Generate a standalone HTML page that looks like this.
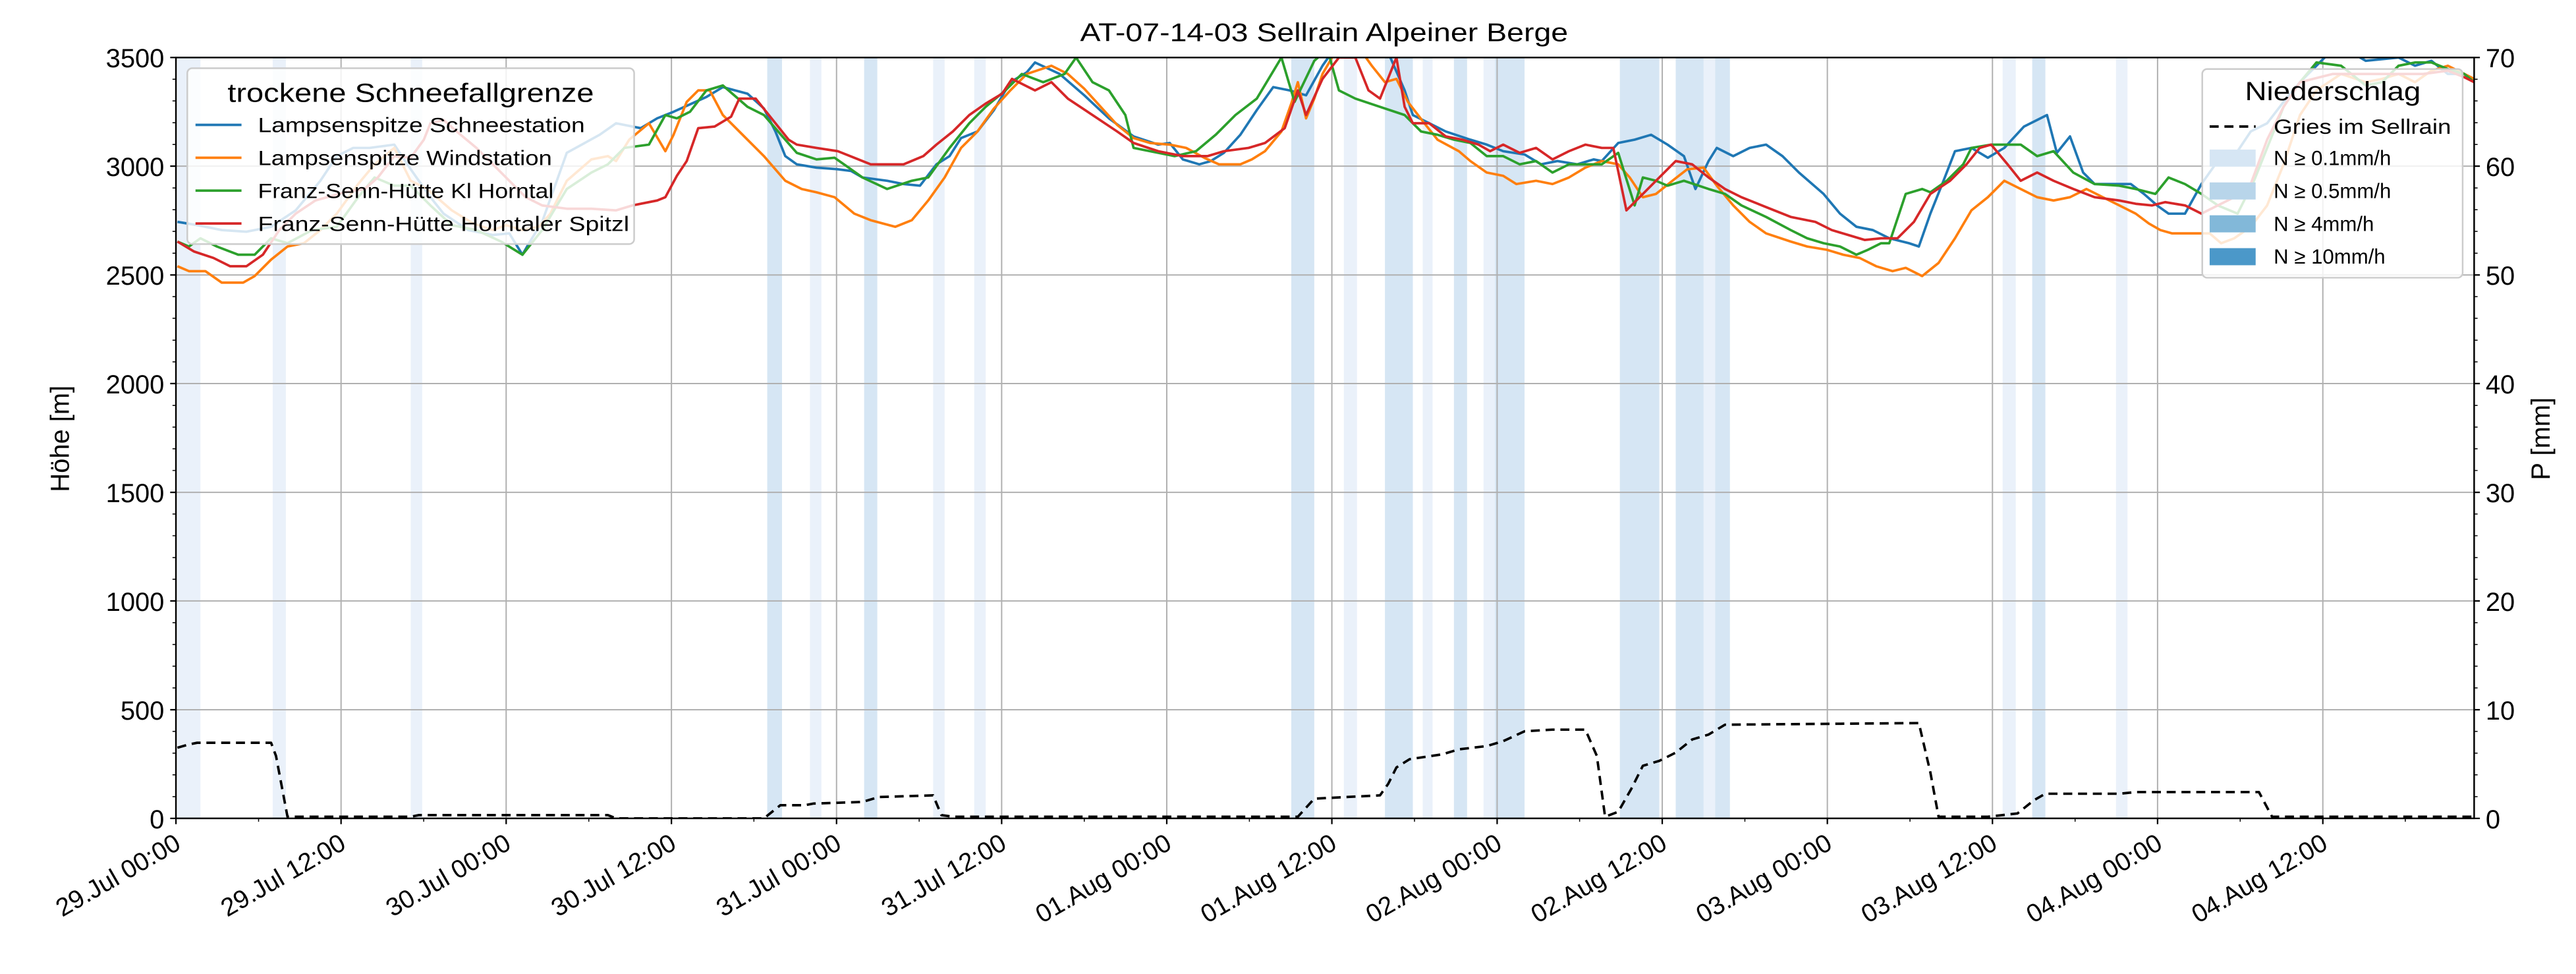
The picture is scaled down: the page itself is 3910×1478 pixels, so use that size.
<!DOCTYPE html>
<html><head><meta charset="utf-8"><style>html,body{margin:0;padding:0;background:#fff}svg{display:block}</style></head>
<body>
<svg xmlns="http://www.w3.org/2000/svg" width="3910" height="1478" viewBox="0 0 1568 592.7" font-family="Liberation Sans, DejaVu Sans, sans-serif">
<defs><clipPath id="pc"><rect x="107.1" y="35" width="1398.9" height="463"/></clipPath></defs>
<rect width="1568" height="593" fill="#fff"/>
<!-- rain bands -->
<g clip-path="url(#pc)">
<rect x="108" y="35" width="14" height="463" fill="#eaf1fa"/>
<rect x="166" y="35" width="8" height="463" fill="#eaf1fa"/>
<rect x="250" y="35" width="7" height="463" fill="#eaf1fa"/>
<rect x="467" y="35" width="9" height="463" fill="#d6e6f4"/>
<rect x="493" y="35" width="7" height="463" fill="#eaf1fa"/>
<rect x="526" y="35" width="8" height="463" fill="#d6e6f4"/>
<rect x="568" y="35" width="7" height="463" fill="#eaf1fa"/>
<rect x="593" y="35" width="7" height="463" fill="#eaf1fa"/>
<rect x="786" y="35" width="14" height="463" fill="#d6e6f4"/>
<rect x="818" y="35" width="8" height="463" fill="#eaf1fa"/>
<rect x="843" y="35" width="17" height="463" fill="#d6e6f4"/>
<rect x="866" y="35" width="6" height="463" fill="#eaf1fa"/>
<rect x="885" y="35" width="8" height="463" fill="#d6e6f4"/>
<rect x="903" y="35" width="7" height="463" fill="#eaf1fa"/>
<rect x="910" y="35" width="18" height="463" fill="#d6e6f4"/>
<rect x="986" y="35" width="24" height="463" fill="#d6e6f4"/>
<rect x="1020" y="35" width="17" height="463" fill="#d6e6f4"/>
<rect x="1037" y="35" width="7" height="463" fill="#eaf1fa"/>
<rect x="1044" y="35" width="9" height="463" fill="#d6e6f4"/>
<rect x="1219" y="35" width="8" height="463" fill="#eaf1fa"/>
<rect x="1237" y="35" width="8" height="463" fill="#d6e6f4"/>
<rect x="1288" y="35" width="7" height="463" fill="#eaf1fa"/>
</g>
<!-- grid -->
<g stroke="#b0b0b0" stroke-width="0.8">
<path d="M107.1 431.9H1506M107.1 365.7H1506M107.1 299.6H1506M107.1 233.4H1506M107.1 167.3H1506M107.1 101.1H1506"/>
<path d="M207.6 35V498M308.1 35V498M408.7 35V498M509.2 35V498M609.7 35V498M710.2 35V498M810.7 35V498M911.3 35V498M1011.8 35V498M1112.3 35V498M1212.8 35V498M1313.3 35V498M1413.9 35V498"/>
</g>
<g clip-path="url(#pc)" fill="none" stroke-width="1.5" stroke-linejoin="round">
<polyline stroke="#1f77b4" points="108,135 120,137 135,140 150,141 165,138 180,128 195,110 205,95 215,90 225,90 240,88 250,103 262,120 270,130 285,140 300,143 310,142 318,155 322,148 330,135 345,93 365,82 375,75 390,78 400,72 410,68 430,59 440,53 455,57 465,66 472,80 478,95 485,100 497,102 510,103 518,104 525,108 540,110 550,112 560,113 570,100 578,95 585,84 595,80 605,67 615,50 625,44 630,38 645,45 660,58 675,72 690,83 705,88 712,87 720,97 730,100 737,98 745,93 755,82 765,67 775,53 785,55 795,58 805,40 812,30 822,32 835,30 845,32 855,55 860,70 870,75 880,80 895,85 905,88 915,92 928,94 938,100 948,98 960,100 970,97 975,98 985,87 995,85 1005,82 1015,88 1025,95 1032,115 1040,98 1045,90 1055,95 1065,90 1075,88 1085,95 1095,105 1110,118 1120,130 1130,138 1140,140 1150,145 1162,148 1168,150 1175,130 1183,110 1190,92 1200,90 1210,96 1220,90 1232,77 1242,72 1246,70 1252,93 1260,83 1268,105 1275,112 1285,112 1297,112 1305,118 1313,125 1320,130 1330,130 1340,112 1352,95 1362,92 1370,80 1380,75 1390,62 1400,50 1415,35 1428,30 1440,37 1460,35 1470,40 1480,37 1490,45 1500,45 1506,50"/>
<polyline stroke="#ff7f0e" points="108,162 115,165 125,165 135,172 148,172 155,168 165,158 175,150 185,148 195,140 205,130 218,112 228,100 240,90 250,110 260,115 275,128 288,136 300,140 308,137 318,140 328,138 335,130 345,110 360,97 370,95 375,98 383,85 395,75 405,92 410,82 418,62 425,55 432,55 440,70 452,82 465,95 478,110 488,115 497,117 508,120 520,130 530,134 545,138 555,134 565,122 575,108 585,90 595,80 605,66 615,55 625,45 640,40 650,45 660,54 670,65 680,76 690,84 700,87 712,88 722,90 733,96 742,100 755,100 762,97 770,92 780,80 786,63 790,50 795,72 800,60 805,45 812,33 830,33 835,40 843,50 850,48 857,62 867,75 875,85 888,92 895,98 905,105 915,107 923,112 935,110 945,112 955,108 965,102 975,98 985,100 992,108 1000,120 1008,118 1018,110 1027,103 1037,102 1045,113 1055,125 1065,135 1075,142 1090,147 1100,150 1112,152 1122,155 1132,157 1142,162 1152,165 1160,163 1170,168 1180,160 1190,145 1200,128 1210,120 1220,110 1230,115 1240,120 1250,122 1260,120 1270,115 1280,120 1290,125 1300,130 1308,136 1315,140 1322,142 1335,142 1345,142 1352,148 1360,145 1370,138 1380,125 1390,100 1400,70 1410,55 1425,45 1440,50 1450,48 1460,45 1470,50 1480,43 1490,40 1500,45 1506,48"/>
<polyline stroke="#2ca02c" points="108,147 115,150 122,145 132,150 145,155 155,155 165,145 175,148 190,140 205,138 218,120 228,108 240,113 250,113 262,125 275,137 290,140 305,147 318,155 330,140 345,115 360,105 370,100 380,90 395,88 405,70 412,72 420,68 430,55 440,52 455,65 465,70 478,85 485,93 497,97 508,96 518,103 525,108 540,115 555,110 565,108 578,90 590,75 600,65 612,55 622,45 635,50 648,45 655,35 665,50 675,55 685,70 690,90 700,92 715,95 728,92 740,82 752,70 765,60 780,35 788,62 800,37 808,30 815,55 825,60 840,65 855,70 865,80 875,82 885,85 895,87 905,95 915,95 925,100 935,98 945,105 955,100 962,100 975,100 985,93 995,125 1000,108 1008,110 1015,113 1025,110 1040,115 1050,118 1060,125 1075,132 1090,140 1100,145 1110,148 1120,150 1130,155 1137,152 1145,148 1150,148 1160,118 1170,115 1175,117 1185,110 1195,100 1200,90 1212,88 1230,88 1240,95 1250,92 1262,105 1275,112 1290,113 1300,115 1312,118 1320,108 1330,112 1340,118 1350,125 1362,130 1372,110 1380,90 1390,65 1400,50 1410,38 1425,40 1440,52 1450,50 1460,40 1470,38 1480,38 1490,42 1500,45 1506,50"/>
<polyline stroke="#d62728" points="108,147 118,153 130,157 140,162 150,162 160,155 170,140 180,130 192,122 210,117 222,115 230,108 240,95 250,96 258,85 262,75 270,73 278,80 290,90 300,100 312,112 320,120 330,125 345,127 360,127 375,128 385,125 400,122 405,120 412,107 418,98 425,78 435,77 445,71 450,60 460,60 468,70 480,85 485,88 497,90 510,92 520,96 530,100 540,100 550,100 562,95 570,88 580,80 590,70 600,63 610,57 616,48 630,55 640,50 650,60 665,70 680,80 690,87 705,92 720,95 735,95 745,92 760,90 770,87 782,78 790,55 795,70 805,48 815,35 825,35 833,55 840,60 850,35 855,65 860,75 870,75 880,83 890,85 900,88 907,92 915,88 925,93 935,90 945,97 955,92 965,88 975,90 982,90 990,128 1000,118 1010,108 1020,98 1030,100 1040,108 1050,115 1060,120 1075,126 1090,132 1105,135 1115,140 1125,143 1135,146 1145,145 1155,145 1165,135 1175,118 1187,110 1197,100 1205,90 1212,88 1222,100 1230,110 1240,105 1250,110 1262,115 1275,120 1290,122 1300,124 1310,125 1318,123 1330,125 1340,130 1350,125 1360,120 1370,112 1380,85 1390,65 1400,50 1420,45 1440,45 1460,45 1475,45 1490,43 1500,47 1506,50"/>
<polyline stroke="#000" stroke-dasharray="5.5,3.5" points="108,455 115,453 120,452 165,452 168,460 175,497 250,497 255,496 370,496 375,498 465,498 475,490 490,490 495,489 525,488 535,485 568,484 573,496 580,497 790,497 800,486 820,485 840,484 845,477 850,467 858,462 878,459 888,456 905,454 915,451 928,445 945,444 965,444 972,460 977,497 985,494 993,480 1000,466 1010,463 1020,458 1030,450 1040,447 1050,441 1168,440 1175,470 1180,497 1210,497 1228,495 1238,487 1245,483 1290,483 1300,482 1375,482 1383,497 1506,497"/>
</g>
<!-- spines -->
<rect x="107.1" y="35" width="1398.9" height="463" fill="none" stroke="#000" stroke-width="1"/>
<!-- ticks -->
<g stroke="#000" stroke-width="0.9">
<path d="M103.6 498H107.1M103.6 431.9H107.1M103.6 365.7H107.1M103.6 299.6H107.1M103.6 233.4H107.1M103.6 167.3H107.1M103.6 101.1H107.1M103.6 35H107.1"/>
<path d="M1506 498H1509.5M1506 431.9H1509.5M1506 365.7H1509.5M1506 299.6H1509.5M1506 233.4H1509.5M1506 167.3H1509.5M1506 101.1H1509.5M1506 35H1509.5"/>
<path d="M107.1 498V501.5M207.6 498V501.5M308.1 498V501.5M408.7 498V501.5M509.2 498V501.5M609.7 498V501.5M710.2 498V501.5M810.7 498V501.5M911.3 498V501.5M1011.8 498V501.5M1112.3 498V501.5M1212.8 498V501.5M1313.3 498V501.5M1413.9 498V501.5"/>
</g>
<g stroke="#000" stroke-width="0.6">
<path d="M157.4 498V500M257.9 498V500M358.4 498V500M458.9 498V500M559.5 498V500M660 498V500M760.5 498V500M861 498V500M961.5 498V500M1062.1 498V500M1162.6 498V500M1263.1 498V500M1363.6 498V500M1464.1 498V500"/>
<path d="M105 484.8H107.1M105 471.5H107.1M105 458.3H107.1M105 445.1H107.1M105 418.6H107.1M105 405.4H107.1M105 392.2H107.1M105 378.9H107.1M105 352.5H107.1M105 339.3H107.1M105 326H107.1M105 312.8H107.1M105 286.3H107.1M105 273.1H107.1M105 259.9H107.1M105 246.7H107.1M105 220.2H107.1M105 207H107.1M105 193.7H107.1M105 180.5H107.1M105 154.1H107.1M105 140.8H107.1M105 127.6H107.1M105 114.4H107.1M105 87.9H107.1M105 74.7H107.1M105 61.4H107.1M105 48.2H107.1"/>
<path d="M1506 484.8H1508.1M1506 471.5H1508.1M1506 458.3H1508.1M1506 445.1H1508.1M1506 418.6H1508.1M1506 405.4H1508.1M1506 392.2H1508.1M1506 378.9H1508.1M1506 352.5H1508.1M1506 339.3H1508.1M1506 326H1508.1M1506 312.8H1508.1M1506 286.3H1508.1M1506 273.1H1508.1M1506 259.9H1508.1M1506 246.7H1508.1M1506 220.2H1508.1M1506 207H1508.1M1506 193.7H1508.1M1506 180.5H1508.1M1506 154.1H1508.1M1506 140.8H1508.1M1506 127.6H1508.1M1506 114.4H1508.1M1506 87.9H1508.1M1506 74.7H1508.1M1506 61.4H1508.1M1506 48.2H1508.1"/>
</g>
<!-- tick labels -->
<g font-size="16" fill="#000" text-anchor="end">
<text x="100" y="504">0</text>
<text x="100" y="437.9">500</text>
<text x="100" y="371.7">1000</text>
<text x="100" y="305.6">1500</text>
<text x="100" y="239.4">2000</text>
<text x="100" y="173.3">2500</text>
<text x="100" y="107.1">3000</text>
<text x="100" y="41">3500</text>
</g>
<g font-size="16" fill="#000" text-anchor="start">
<text x="1513" y="504">0</text>
<text x="1513" y="437.9">10</text>
<text x="1513" y="371.7">20</text>
<text x="1513" y="305.6">30</text>
<text x="1513" y="239.4">40</text>
<text x="1513" y="173.3">50</text>
<text x="1513" y="107.1">60</text>
<text x="1513" y="41">70</text>
</g>
<g font-size="15.5" fill="#000" text-anchor="end">
<text transform="translate(111,516) rotate(-30)">29.Jul 00:00</text>
<text transform="translate(211.5,516) rotate(-30)">29.Jul 12:00</text>
<text transform="translate(312,516) rotate(-30)">30.Jul 00:00</text>
<text transform="translate(412.6,516) rotate(-30)">30.Jul 12:00</text>
<text transform="translate(513.1,516) rotate(-30)">31.Jul 00:00</text>
<text transform="translate(613.6,516) rotate(-30)">31.Jul 12:00</text>
<text transform="translate(714.1,516) rotate(-30)">01.Aug 00:00</text>
<text transform="translate(814.6,516) rotate(-30)">01.Aug 12:00</text>
<text transform="translate(915.2,516) rotate(-30)">02.Aug 00:00</text>
<text transform="translate(1015.7,516) rotate(-30)">02.Aug 12:00</text>
<text transform="translate(1116.2,516) rotate(-30)">03.Aug 00:00</text>
<text transform="translate(1216.7,516) rotate(-30)">03.Aug 12:00</text>
<text transform="translate(1317.2,516) rotate(-30)">04.Aug 00:00</text>
<text transform="translate(1417.8,516) rotate(-30)">04.Aug 12:00</text>
</g>
<text x="806" y="25" font-size="15.5" text-anchor="middle" textLength="297" lengthAdjust="spacingAndGlyphs">AT-07-14-03 Sellrain Alpeiner Berge</text>
<text transform="translate(42,267) rotate(-90)" font-size="16" text-anchor="middle">Höhe [m]</text>
<text transform="translate(1552,267) rotate(-90)" font-size="16" text-anchor="middle">P [mm]</text>
<!-- legend 1 -->
<rect x="114" y="41.5" width="272" height="107" rx="3" fill="#fff" fill-opacity="0.82" stroke="#cccccc" stroke-width="1"/>
<text x="250" y="62" font-size="16" text-anchor="middle" textLength="223" lengthAdjust="spacingAndGlyphs">trockene Schneefallgrenze</text>
<g stroke-width="1.5">
<line x1="119" y1="76" x2="147" y2="76" stroke="#1f77b4"/>
<line x1="119" y1="96" x2="147" y2="96" stroke="#ff7f0e"/>
<line x1="119" y1="116" x2="147" y2="116" stroke="#2ca02c"/>
<line x1="119" y1="136" x2="147" y2="136" stroke="#d62728"/>
</g>
<g font-size="12.5">
<text x="157" y="80.5" textLength="199" lengthAdjust="spacingAndGlyphs">Lampsenspitze Schneestation</text>
<text x="157" y="100.5" textLength="179" lengthAdjust="spacingAndGlyphs">Lampsenspitze Windstation</text>
<text x="157" y="120.5" textLength="180" lengthAdjust="spacingAndGlyphs">Franz-Senn-Hütte Kl Horntal</text>
<text x="157" y="140.5" textLength="226" lengthAdjust="spacingAndGlyphs">Franz-Senn-Hütte Horntaler Spitzl</text>
</g>
<!-- legend 2 -->
<rect x="1340.5" y="42" width="158.5" height="127" rx="3" fill="#fff" fill-opacity="0.82" stroke="#cccccc" stroke-width="1"/>
<text x="1420" y="61" font-size="16" text-anchor="middle" textLength="107" lengthAdjust="spacingAndGlyphs">Niederschlag</text>
<line x1="1345" y1="77" x2="1373" y2="77" stroke="#000" stroke-width="1.5" stroke-dasharray="5.5,3.5"/>
<rect x="1345" y="91" width="28" height="10.4" fill="#d6e6f4"/>
<rect x="1345" y="111" width="28" height="10.4" fill="#b8d5ea"/>
<rect x="1345" y="131" width="28" height="10.4" fill="#82b8d9"/>
<rect x="1345" y="151" width="28" height="10.4" fill="#4b98c9"/>
<g font-size="12.5">
<text x="1384" y="81.5" textLength="108" lengthAdjust="spacingAndGlyphs">Gries im Sellrain</text>
<text x="1384" y="100.5">N ≥ 0.1mm/h</text>
<text x="1384" y="120.5">N ≥ 0.5mm/h</text>
<text x="1384" y="140.5">N ≥ 4mm/h</text>
<text x="1384" y="160.5">N ≥ 10mm/h</text>
</g>
</svg>
</body></html>
